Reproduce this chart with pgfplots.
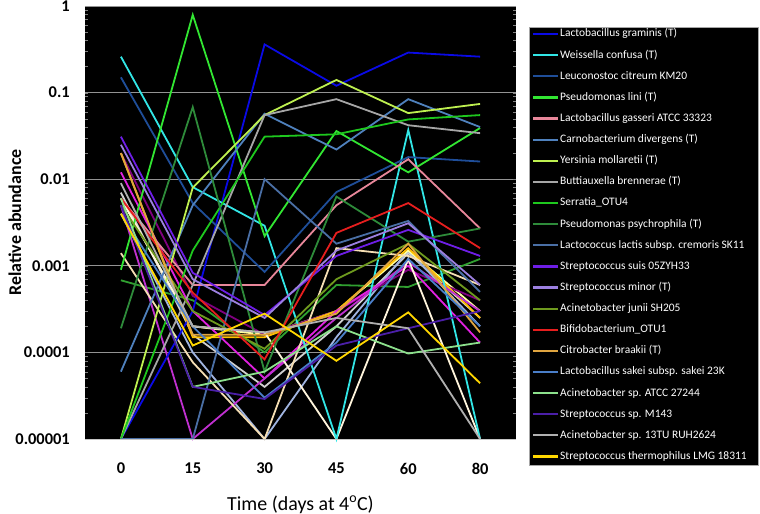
\documentclass[border=0pt]{standalone}
\usepackage{fontspec}
\setmainfont{Carlito}
\usepackage{pgfplots}
\pgfplotsset{compat=1.18}
\definecolor{cgram}{RGB}{10,10,230}
\definecolor{cweis}{RGB}{50,230,230}
\definecolor{cleuc}{RGB}{31,78,153}
\definecolor{clini}{RGB}{50,230,50}
\definecolor{cgass}{RGB}{232,135,154}
\definecolor{ccarn}{RGB}{79,129,189}
\definecolor{cyers}{RGB}{190,240,80}
\definecolor{cbutt}{RGB}{166,166,166}
\definecolor{cserr}{RGB}{30,200,30}
\definecolor{cpsyc}{RGB}{46,139,58}
\definecolor{clact}{RGB}{74,111,165}
\definecolor{csuis}{RGB}{110,30,230}
\definecolor{cmino}{RGB}{156,128,224}
\definecolor{cjuni}{RGB}{110,154,30}
\definecolor{cbifi}{RGB}{230,30,30}
\definecolor{ccitr}{RGB}{224,165,64}
\definecolor{csake}{RGB}{74,126,200}
\definecolor{catcc}{RGB}{140,224,140}
\definecolor{cm143}{RGB}{75,31,168}
\definecolor{cacin}{RGB}{176,176,176}
\definecolor{ctherm}{RGB}{255,215,0}
\newcommand{\leg}[2]{\textcolor{#1}{\rule[1.8bp]{25bp}{2.2bp}}\hspace{2bp}#2}
\begin{document}
\begin{tikzpicture}
\begin{axis}[
  scale only axis, width=431bp, height=433bp,
  at={(0,0)}, anchor=south west,
  xmin=-0.5, xmax=5.5, ymin=1e-5, ymax=1, ymode=log,
  clip=false,
  axis background/.style={fill=black},
  axis line style={draw=none},
  xtick={0,1,2,3,4,5}, xticklabels={0,15,30,45,60,80},
  ytick={1e-5,1e-4,1e-3,1e-2,1e-1,1},
  yticklabels={0.00001,0.0001,0.001,0.01,0.1,1},
  major tick length=0pt, minor tick num=0,
  /pgf/number format/assume math mode=true,
  ymajorgrids, grid style={color=gray!85, line width=0.8bp},
  xticklabel style={font=\fontsize{16.5}{18}\selectfont\bfseries, anchor=north, inner sep=0pt, yshift=-24bp},
  yticklabel style={font=\fontsize{16.5}{18}\selectfont\bfseries, anchor=east, inner sep=0pt, xshift=-15bp},
  every axis y label/.style={at={(axis description cs:0,0.5)}, xshift=-70bp, rotate=90, anchor=center, font=\fontsize{18}{20}\selectfont\bfseries},
  every axis x label/.style={at={(axis description cs:0.5,0)}, yshift=-71bp, anchor=base, font=\fontsize{20}{22}\selectfont},
  ylabel={Relative abundance},
  xlabel={Time (days at 4\textsuperscript{o}C)},
  every axis plot/.append style={line width=1.8bp},
]
% extras (not in legend)
\addplot[color={rgb,255:red,48;green,160;blue,48}] coordinates {(0,0.00068) (1,0.0004) (2,0.0001) (3,0.0006) (4,0.00057) (5,0.0012)};
\addplot[color={rgb,255:red,208;green,208;blue,208}] coordinates {(0,0.007) (1,0.00016) (2,0.00004) (3,0.0002) (4,0.0014) (5,0.00025)};
\addplot[color={rgb,255:red,160;green,180;blue,224}] coordinates {(0,0.004) (1,0.0001) (2,0.00001) (3,0.00015) (4,0.0015) (5,0.0002)};
\addplot[color={rgb,255:red,255;green,255;blue,160}] coordinates {(0,0.006) (1,0.0002) (2,0.00016) (3,0.0003) (4,0.0015) (5,0.0003)};
\addplot[color={rgb,255:red,128;green,0;blue,128}] coordinates {(0,0.02) (1,0.00045) (2,0.00016) (3,0.0003) (4,0.0009) (5,0.0004)};
\addplot[color={rgb,255:red,255;green,192;blue,0}] coordinates {(0,0.02) (1,0.00015) (2,0.00015) (3,0.0003) (4,0.0016) (5,0.00025)};
\addplot[color={rgb,255:red,224;green,32;blue,224}] coordinates {(0,0.012) (1,0.0003) (2,0.00005) (3,0.0003) (4,0.001) (5,0.00013)};
\addplot[color={rgb,255:red,192;green,48;blue,208}] coordinates {(0,0.005) (1,0.00001) (2,0.00005) (3,0.00025) (4,0.0011) (5,0.0003)};
\addplot[color={rgb,255:red,245;green,222;blue,179}] coordinates {(0,0.0014) (1,0.000077) (2,0.00001) (3,0.0016) (4,0.0013) (5,0.0006)};
\addplot[color={rgb,255:red,255;green,245;blue,220}] coordinates {(0,0.006) (1,0.0002) (2,0.00017) (3,0.00001) (4,0.0012) (5,0.00001)};
% named series
\addplot[color=cgram] coordinates {(0,0.00001) (1,0.0003) (2,0.36) (3,0.12) (4,0.29) (5,0.26)};
\addplot[color=cweis] coordinates {(0,0.26) (1,0.0081) (2,0.0029) (3,0.00001) (4,0.037) (5,0.00001)};
\addplot[color=cleuc] coordinates {(0,0.15) (1,0.0053) (2,0.00085) (3,0.0071) (4,0.018) (5,0.016)};
\addplot[color=clini] coordinates {(0,0.0009) (1,0.79) (2,0.0022) (3,0.036) (4,0.012) (5,0.039)};
\addplot[color=cgass] coordinates {(0,0.006) (1,0.0006) (2,0.0006) (3,0.005) (4,0.017) (5,0.0027)};
\addplot[color=ccarn] coordinates {(0,0.00006) (1,0.005) (2,0.057) (3,0.022) (4,0.084) (5,0.04)};
\addplot[color=cyers] coordinates {(0,0.00001) (1,0.008) (2,0.055) (3,0.14) (4,0.058) (5,0.074)};
\addplot[color=cbutt] coordinates {(0,0.00001) (1,0.0006) (2,0.055) (3,0.084) (4,0.042) (5,0.034)};
\addplot[color=cserr] coordinates {(0,0.00001) (1,0.0015) (2,0.031) (3,0.033) (4,0.049) (5,0.055)};
\addplot[color=cpsyc] coordinates {(0,0.00019) (1,0.068) (2,0.00006) (3,0.0063) (4,0.0019) (5,0.0027)};
\addplot[color=clact] coordinates {(0,0.00001) (1,0.00001) (2,0.01) (3,0.0018) (4,0.0033) (5,0.0005)};
\addplot[color=csuis] coordinates {(0,0.031) (1,0.00083) (2,0.00027) (3,0.0013) (4,0.0026) (5,0.0013)};
\addplot[color=cmino] coordinates {(0,0.025) (1,0.0007) (2,0.00025) (3,0.0015) (4,0.0031) (5,0.0006)};
\addplot[color=cjuni] coordinates {(0,0.005) (1,0.0003) (2,0.00011) (3,0.0007) (4,0.0018) (5,0.0004)};
\addplot[color=cbifi] coordinates {(0,0.006) (1,0.00049) (2,0.000083) (3,0.0024) (4,0.0053) (5,0.0016)};
\addplot[color=ccitr] coordinates {(0,0.02) (1,0.00016) (2,0.00016) (3,0.00028) (4,0.0018) (5,0.00017)};
\addplot[color=csake] coordinates {(0,0.004) (1,0.0002) (2,0.00003) (3,0.00013) (4,0.0012) (5,0.0002)};
\addplot[color=catcc] coordinates {(0,0.006) (1,0.00004) (2,0.00006) (3,0.0002) (4,0.000097) (5,0.00013)};
\addplot[color=cm143] coordinates {(0,0.005) (1,0.00004) (2,0.000029) (3,0.00012) (4,0.00019) (5,0.0003)};
\addplot[color=cacin] coordinates {(0,0.009) (1,0.0002) (2,0.00017) (3,0.00025) (4,0.00019) (5,0.00001)};
\addplot[color=ctherm] coordinates {(0,0.004) (1,0.00012) (2,0.00028) (3,0.00008) (4,0.00029) (5,0.000044)};
\draw[color=gray!45, line width=1bp] (rel axis cs:0,0) -- (rel axis cs:1,0);
\end{axis}
\filldraw[fill=black, draw=gray!70, line width=0.8bp] (444bp,412bp) rectangle (673.5bp,-26bp);
\node[anchor=north west, inner xsep=4bp, inner ysep=0bp,
  font=\fontsize{11.5}{21.2}\selectfont\color{white}] at (444bp,417bp) {%
\begin{tabular}{@{}l@{}}
\leg{cgram}{Lactobacillus graminis (T)}\\
\leg{cweis}{Weissella confusa (T)}\\
\leg{cleuc}{Leuconostoc citreum KM20}\\
\leg{clini}{Pseudomonas lini (T)}\\
\leg{cgass}{Lactobacillus gasseri ATCC 33323}\\
\leg{ccarn}{Carnobacterium divergens (T)}\\
\leg{cyers}{Yersinia mollaretii (T)}\\
\leg{cbutt}{Buttiauxella brennerae (T)}\\
\leg{cserr}{Serratia\_OTU4}\\
\leg{cpsyc}{Pseudomonas psychrophila (T)}\\
\leg{clact}{Lactococcus lactis subsp. cremoris SK11}\\
\leg{csuis}{Streptococcus suis 05ZYH33}\\
\leg{cmino}{Streptococcus minor (T)}\\
\leg{cjuni}{Acinetobacter junii SH205}\\
\leg{cbifi}{Bifidobacterium\_OTU1}\\
\leg{ccitr}{Citrobacter braakii (T)}\\
\leg{csake}{Lactobacillus sakei subsp. sakei 23K}\\
\leg{catcc}{Acinetobacter sp. ATCC 27244}\\
\leg{cm143}{Streptococcus sp. M143}\\
\leg{cacin}{Acinetobacter sp. 13TU RUH2624}\\
\leg{ctherm}{Streptococcus thermophilus LMG 18311}
\end{tabular}};
\pgfresetboundingbox
\path[use as bounding box] (-85bp,-75bp) rectangle (675bp,439bp);
\end{tikzpicture}
\end{document}
